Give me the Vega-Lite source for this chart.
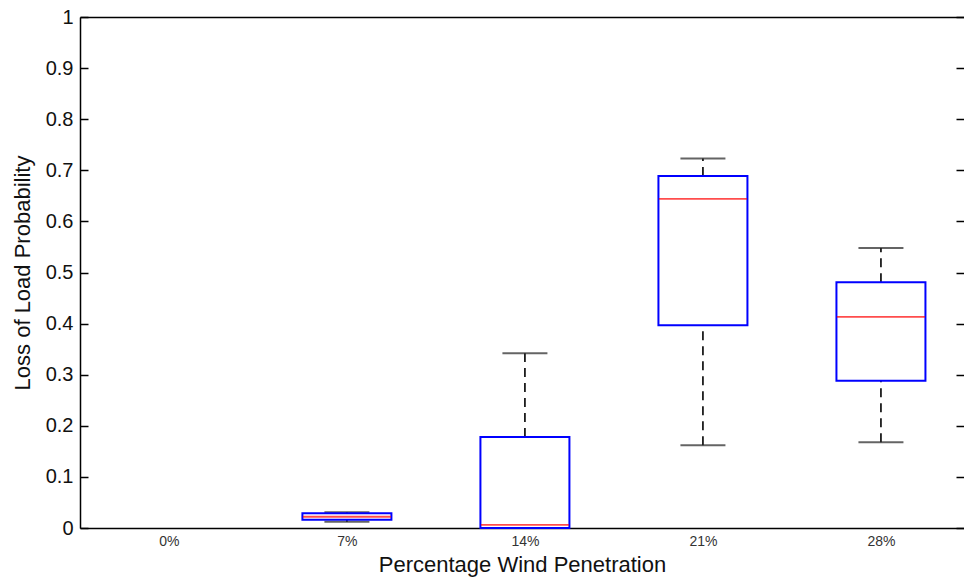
{
  "$schema": "https://vega.github.io/schema/vega-lite/v6.json",
  "width": 884,
  "height": 511,
  "autosize": {"type": "none"},
  "padding": {"left": 80, "top": 17, "right": 0, "bottom": 52},
  "background": "white",
  "view": {"stroke": null},
  "config": {
    "font": "Liberation Sans",
    "axis": {"grid": false, "domainColor": "#000", "domainWidth": 1.5, "tickColor": "#000", "tickWidth": 1.5}
  },
  "data": {
    "values": [
      {"pen": "7%", "lo": 0.012, "q1": 0.016, "med": 0.022, "q3": 0.029, "hi": 0.031},
      {"pen": "14%", "lo": 0.0, "q1": 0.0, "med": 0.006, "q3": 0.178, "hi": 0.342},
      {"pen": "21%", "lo": 0.162, "q1": 0.397, "med": 0.644, "q3": 0.689, "hi": 0.723},
      {"pen": "28%", "lo": 0.168, "q1": 0.288, "med": 0.413, "q3": 0.481, "hi": 0.548}
    ]
  },
  "encoding": {
    "x": {
      "field": "pen",
      "type": "nominal",
      "sort": null,
      "scale": {"type": "point", "domain": ["0%", "7%", "14%", "21%", "28%"], "padding": 0.483, "align": 0.517}
    }
  },
  "layer": [
    {
      "mark": {"type": "rule", "color": "#000", "strokeWidth": 1.6, "strokeDash": [9, 6]},
      "encoding": {
        "x": {
          "field": "pen", "type": "nominal", "sort": null,
          "axis": {
            "orient": "bottom", "title": "Percentage Wind Penetration", "ticks": false,
            "labelAngle": 0, "labelFontSize": 14, "labelColor": "#333", "labelPadding": 6,
            "titleFontSize": 22, "titleFontWeight": "normal", "titleColor": "#111", "titlePadding": 6
          }
        },
        "y": {
          "field": "q3", "type": "quantitative",
          "scale": {"domain": [0, 1], "nice": false},
          "axis": {
            "orient": "left", "title": "Loss of Load Probability",
            "values": [0, 0.1, 0.2, 0.3, 0.4, 0.5, 0.6, 0.7, 0.8, 0.9, 1],
            "format": "~g", "tickSize": -8, "labelPadding": 15, "labelFontSize": 20, "labelColor": "#111",
            "titleFontSize": 22, "titleFontWeight": "normal", "titleColor": "#111", "titlePadding": 11
          }
        },
        "y2": {"field": "hi"}
      }
    },
    {
      "mark": {"type": "rule", "color": "#000", "strokeWidth": 1.6, "strokeDash": [9, 6]},
      "encoding": {
        "x": {
          "field": "pen", "type": "nominal", "sort": null,
          "axis": {"orient": "top", "title": null, "labels": false, "ticks": false}
        },
        "y": {
          "field": "lo", "type": "quantitative",
          "axis": {
            "orient": "right", "title": null, "labels": false, "domain": false,
            "values": [0, 0.1, 0.2, 0.3, 0.4, 0.5, 0.6, 0.7, 0.8, 0.9, 1], "tickSize": -8
          }
        },
        "y2": {"field": "q1"}
      }
    },
    {
      "mark": {"type": "tick", "color": "#222", "thickness": 2, "size": 45},
      "encoding": {
        "x": {"field": "pen", "type": "nominal", "sort": null, "axis": null},
        "y": {"field": "hi", "type": "quantitative", "axis": null}
      }
    },
    {
      "mark": {"type": "tick", "color": "#222", "thickness": 2, "size": 45},
      "encoding": {
        "x": {"field": "pen", "type": "nominal", "sort": null, "axis": null},
        "y": {"field": "lo", "type": "quantitative", "axis": null}
      }
    },
    {
      "mark": {"type": "bar", "fill": "white", "fillOpacity": 0, "stroke": "#0000ff", "strokeWidth": 2, "size": 89},
      "encoding": {
        "x": {"field": "pen", "type": "nominal", "sort": null, "axis": null},
        "y": {"field": "q1", "type": "quantitative", "axis": null},
        "y2": {"field": "q3"}
      }
    },
    {
      "mark": {"type": "tick", "color": "#ff0000", "thickness": 1.8, "size": 88},
      "encoding": {
        "x": {"field": "pen", "type": "nominal", "sort": null, "axis": null},
        "y": {"field": "med", "type": "quantitative", "axis": null}
      }
    }
  ],
  "resolve": {"axis": {"x": "independent", "y": "independent"}}
}
